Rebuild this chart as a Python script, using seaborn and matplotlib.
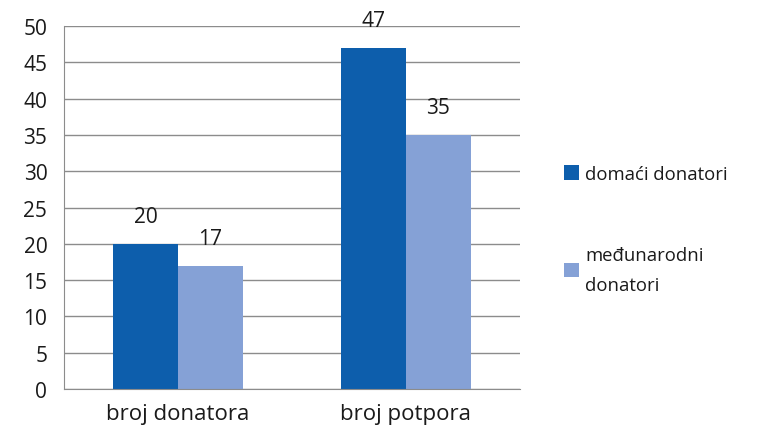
# Donatori i potpore - grouped bar chart
import pandas as pd
import matplotlib.pyplot as plt
import seaborn as sns

# data
categories = ["broj donatora", "broj potpora"]
domaci = [20, 47]
medunarodni = [17, 35]
series = ["domaći donatori", "međunarodni\ndonatori"]

df = pd.DataFrame({
    "kategorija": categories * 2,
    "vrijednost": domaci + medunarodni,
    "serija": [series[0]] * 2 + [series[1]] * 2,
})

sns.set_style("white")
plt.rcParams['font.family'] = ['Open Sans', 'DejaVu Sans']

fig = plt.figure(figsize=(7.6, 4.35), dpi=100)
ax = fig.add_axes([0.0842, 0.1034, 0.6, 0.8345])

sns.barplot(data=df, x="kategorija", y="vrijednost", hue="serija",
            palette=["#0D5EAC", "#85A1D6"], width=0.57, gap=0,
            saturation=1, linewidth=0, ax=ax)

for cont in ax.containers:
    ax.bar_label(cont, padding=12, fontsize=15, color="#1a1a1a")

ax.set_ylim(0, 50)
ax.set_yticks(range(0, 51, 5))
ax.set_xlim(-0.5, 1.5)
ax.set_xlabel("")
ax.set_ylabel("")
ax.yaxis.grid(True, color="#8c8c8c", linewidth=1)
ax.set_axisbelow(True)

for s in ["top", "right"]:
    ax.spines[s].set_visible(False)
for s in ["left", "bottom"]:
    ax.spines[s].set_color("#8c8c8c")

ax.tick_params(axis="y", length=7, color="#8c8c8c", labelsize=15, pad=5, labelcolor="#1a1a1a")
ax.tick_params(axis="x", which="major", length=0, labelsize=16, pad=10, labelcolor="#1a1a1a")
ax.set_xticks([-0.5, 0.5, 1.5], minor=True)
ax.tick_params(axis="x", which="minor", length=6, color="#8c8c8c", direction="out")

handles, labels = ax.get_legend_handles_labels()
leg = ax.legend(handles, labels, loc="center left", bbox_to_anchor=(1.06, 0.44),
                frameon=False, fontsize=13.3, handlelength=0.8, handleheight=0.8,
                handletextpad=0.35, labelspacing=3.4, labelcolor="#1a1a1a")
for t in leg.get_texts():
    t.set_linespacing(1.85)

plt.savefig("out.png", dpi=100)
